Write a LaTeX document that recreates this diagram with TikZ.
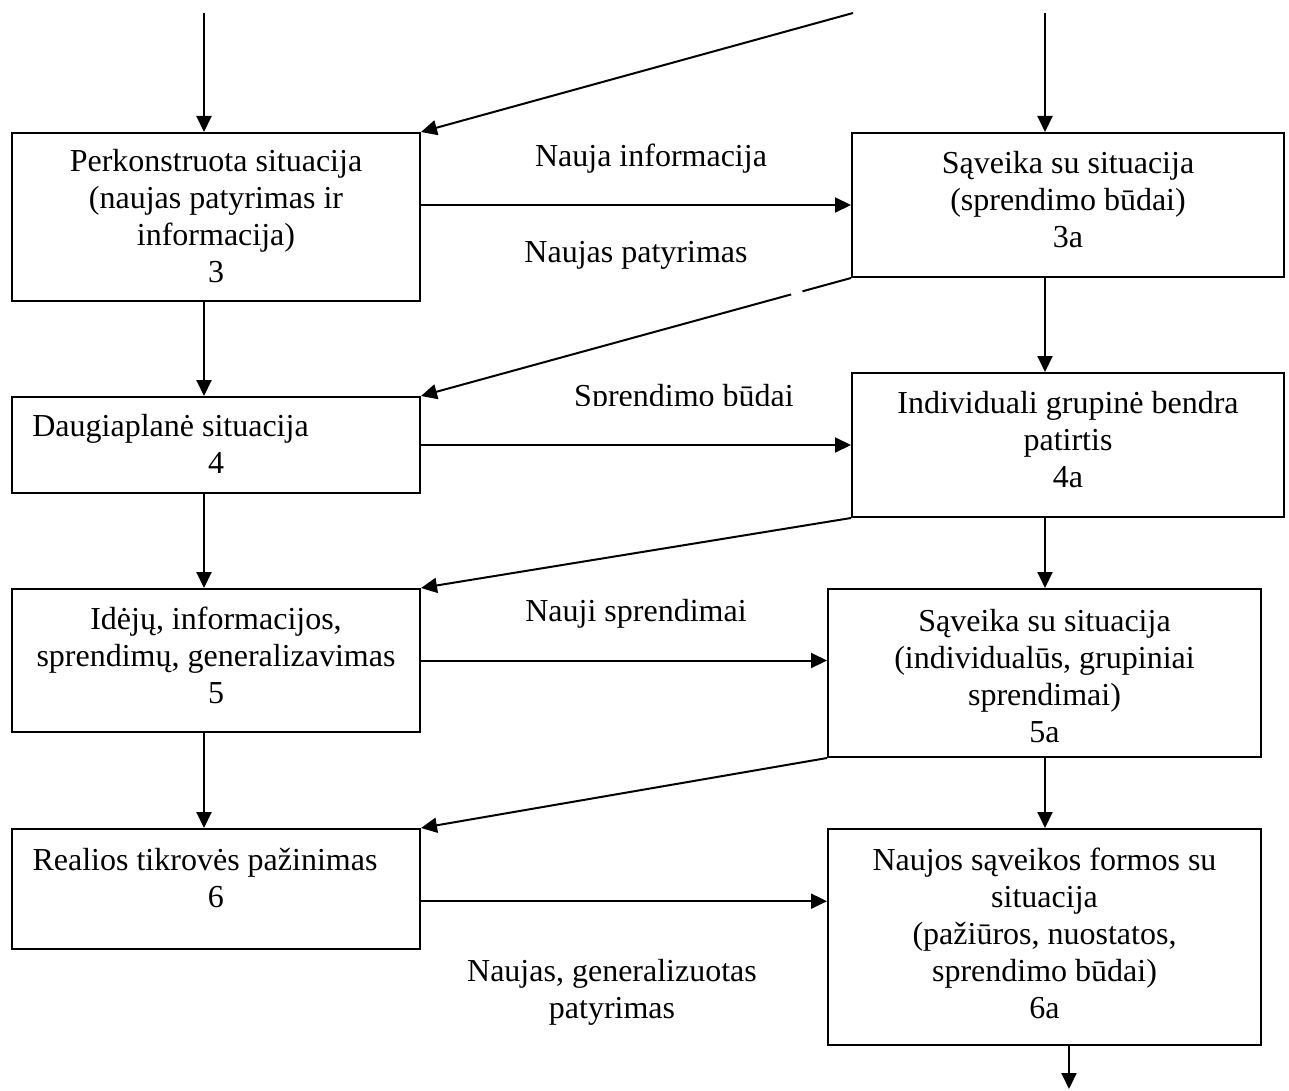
\documentclass[tikz,border=0pt]{standalone}
\usepackage{fontspec}
\setmainfont{Liberation Serif}
\usetikzlibrary{arrows.meta,calc}
\newcommand{\bxt}[2]{\raisebox{#1}[\height][\depth]{\begin{tabular}{@{}c@{}}#2\end{tabular}}}
\begin{document}
\begin{tikzpicture}[x=0.5pt,y=-0.5pt,
  box/.style={draw, line width=1pt, rectangle, inner sep=0pt, font=\fontsize{16pt}{18.5pt}\selectfont},
  lbl/.style={inner sep=0pt, align=center, font=\fontsize{16pt}{18.5pt}\selectfont},
  arr/.style={line width=1pt, -{Triangle[length=8pt,width=7.5pt]}}]
\useasboundingbox (0,0) rectangle (1289,1091);

\node[box, minimum width=204pt, minimum height=84pt] (b3) at (216,217)
  {\bxt{-1.5pt}{Perkonstruota situacija\\(naujas patyrimas ir\\informacija)\\3}};
\node[box, minimum width=216pt, minimum height=72pt] (b3a) at (1068,205)
  {\bxt{0.75pt}{Sąveika su situacija\\(sprendimo būdai)\\3a}};
\node[box, minimum width=204pt, minimum height=48pt] (b4) at (216,445)
  {\bxt{-1.5pt}{\mbox{Daugiaplanė situacija\hspace{45.5pt}}\\4}};
\node[box, minimum width=216pt, minimum height=72pt] (b4a) at (1068,445)
  {\bxt{0.75pt}{Individuali grupinė bendra\\patirtis\\4a}};
\node[box, minimum width=204pt, minimum height=71.5pt] (b5) at (216,660.5)
  {\bxt{0.5pt}{Idėjų, informacijos,\\sprendimų, generalizavimas\\5}};
\node[box, minimum width=216.5pt, minimum height=84pt] (b5a) at (1044.5,673)
  {\bxt{-3.25pt}{Sąveika su situacija\\(individualūs, grupiniai\\sprendimai)\\5a}};
\node[box, minimum width=204pt, minimum height=60pt] (b6) at (216,889)
  {\bxt{3.75pt}{\mbox{Realios tikrovės pažinimas\hspace{11pt}}\\6}};
\node[box, minimum width=216.5pt, minimum height=108pt] (b6a) at (1044.5,937)
  {\bxt{0pt}{Naujos sąveikos formos su\\situacija\\(pažiūros, nuostatos,\\sprendimo būdai)\\6a}};

\node[lbl] (l1) at (651,159) {Nauja informacija};
\node[lbl] (l2) at (636,255) {Naujas patyrimas};
\begin{scope}
  \clip (500,370) rectangle (850,405);
  \node[lbl, anchor=base] (l3) at (684,406) {Sprendimo būdai};
\end{scope}
\node[lbl] (l4) at (636,614) {Nauji sprendimai};
\node[lbl] (l5) at (612,992) {Naujas, generalizuotas\\patyrimas};

\coordinate (cL) at (204,0);
\coordinate (cR) at (1045,0);
\coordinate (inL) at (204,13);
\coordinate (inR) at (1045,13);
\coordinate (inD) at (853,13);
\coordinate (out) at (1069,1089);

\draw[arr] (inL) -- (inL |- b3.north);
\draw[arr] (inR) -- (inR |- b3a.north);
\draw[arr] (inD) -- (b3.north east);
\draw[arr] (b3.east |- b3a.west) -- (b3a.west);
\draw[arr] (b3.south -| cL) -- (b4.north -| cL);
\draw[arr] (b3a.south -| cR) -- (b4a.north -| cR);
\draw[arr] (b3a.south west) -- (b4.north east);
\draw[arr] (b4.east) -- (b4a.west);
\draw[arr] (b4.south -| cL) -- (b5.north -| cL);
\draw[arr] (b4a.south -| cR) -- (b5a.north -| cR);
\draw[arr] (b4a.south west) -- (b5.north east);
\draw[arr] (b5.east) -- (b5.east -| b5a.west);
\draw[arr] (b5.south -| cL) -- (b6.north -| cL);
\draw[arr] (b5a.south -| cR) -- (b6a.north -| cR);
\draw[arr] (b5a.south west) -- (b6.north east);
\coordinate (r6) at ($(b6.north east)!0.6!(b6.south east)$);
\draw[arr] (r6) -- (r6 -| b6a.west);
\draw[arr] (b6a.south -| out) -- (out);

\draw[white, line width=2pt] ($(b3a.south west)!0.113!(b4.north east)$) -- ($(b3a.south west)!0.139!(b4.north east)$);
\end{tikzpicture}
\end{document}
